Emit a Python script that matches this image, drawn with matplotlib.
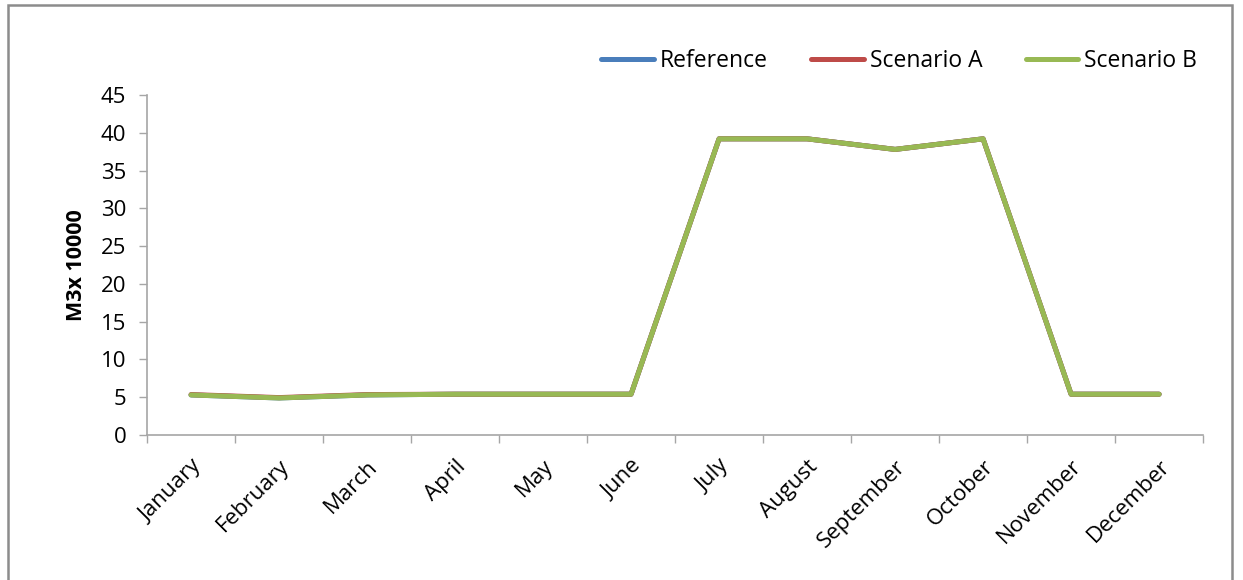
import matplotlib
matplotlib.use("Agg")
import matplotlib.pyplot as plt
from matplotlib.patches import Rectangle
import numpy as np

plt.rcParams["font.family"] = ["Open Sans", "DejaVu Sans"]

months = ["January", "February", "March", "April", "May", "June",
          "July", "August", "September", "October", "November", "December"]
reference = [5.3, 4.9, 5.3, 5.4, 5.4, 5.4, 39.2, 39.2, 37.8, 39.2, 5.4, 5.4]
scenario_a = [5.35, 4.95, 5.35, 5.4, 5.4, 5.4, 39.2, 39.2, 37.8, 39.2, 5.4, 5.4]
scenario_b = [5.3, 4.9, 5.3, 5.4, 5.4, 5.4, 39.2, 39.2, 37.8, 39.2, 5.4, 5.4]

series = [
    ("Reference", reference, "#4A7EBB"),
    ("Scenario A", scenario_a, "#BE4B48"),
    ("Scenario B", scenario_b, "#98B954"),
]

fig = plt.figure(figsize=(12.43, 5.8), dpi=100)
ax = fig.add_axes([0.1183, 0.25, 0.8496, 0.5862])

# outer chart frame
fig.patches.append(Rectangle((8 / 1243, -0.05), 1224 / 1243, 1 - 5 / 580 + 0.05,
                             transform=fig.transFigure, fill=False,
                             edgecolor="#8c8c8c", linewidth=1.8))

x = np.arange(len(months))
for name, vals, color in series:
    ax.plot(x, vals, color=color, linewidth=3.6, label=name, solid_capstyle="round")

ax.set_xlim(-0.5, len(months) - 0.5)
ax.set_ylim(0, 45)
ax.set_yticks(range(0, 46, 5))

ax.set_xticks(x)
ax.set_xticklabels(months, rotation=45, ha="right", rotation_mode="anchor")
ax.set_xticks(np.arange(-0.5, len(months)), minor=True)
ax.tick_params(axis="x", which="major", length=0, pad=15, labelsize=16)
ax.tick_params(axis="x", which="minor", length=6, color="#a6a6a6", width=1)
ax.tick_params(axis="y", length=6, color="#a6a6a6", width=1, labelsize=16, pad=9)

for side in ("top", "right"):
    ax.spines[side].set_visible(False)
for side in ("left", "bottom"):
    ax.spines[side].set_color("#a6a6a6")
    ax.spines[side].set_linewidth(1.2)

ax.set_ylabel("M3x 10000", fontsize=15.5, fontweight="bold", labelpad=10)

fig.legend(loc="center right", bbox_to_anchor=(1197 / 1243, 1 - 61 / 580), ncol=3,
           frameon=False, fontsize=16.5, handlelength=2.3, handletextpad=0.25,
           columnspacing=1.9, borderaxespad=0, borderpad=0)

fig.savefig("out.png", dpi=100)
